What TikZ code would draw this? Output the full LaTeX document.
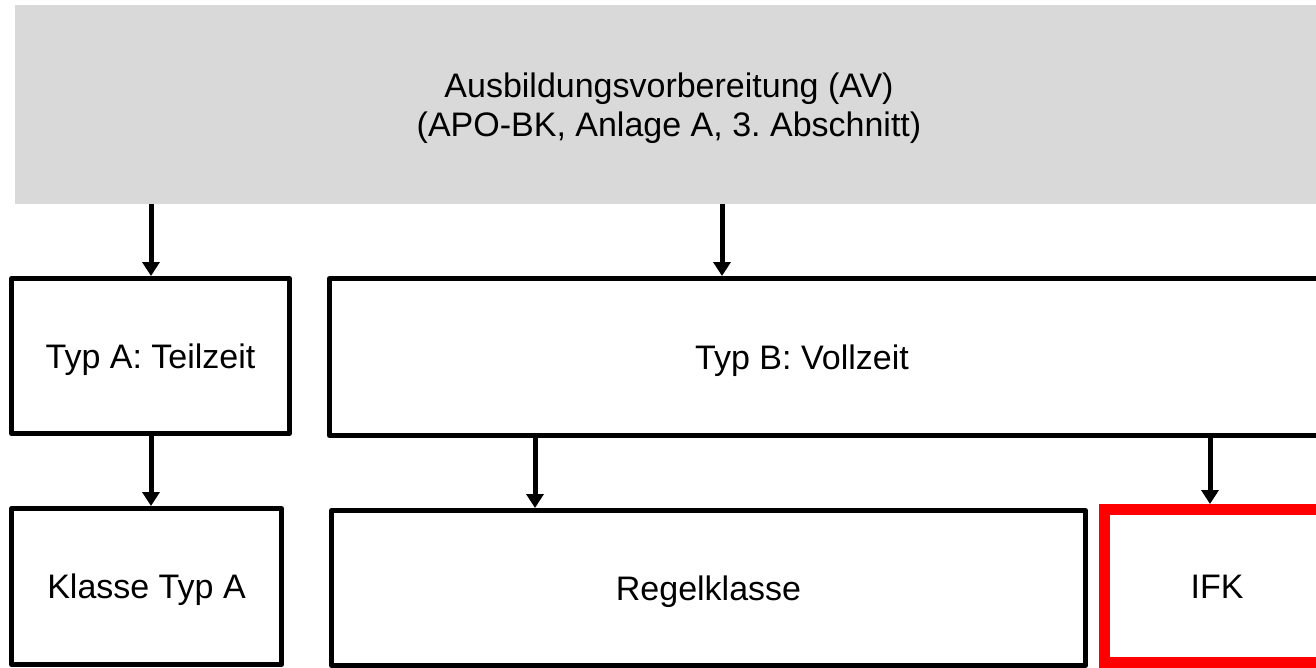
\documentclass[tikz,border=0pt]{standalone}
\usepackage{fontspec}
\setmainfont{Liberation Sans}
\usetikzlibrary{arrows.meta,calc}
\definecolor{graybox}{HTML}{D9D9D9}
\definecolor{ifkred}{HTML}{FF0000}
\frenchspacing
\begin{document}
\begin{tikzpicture}[x=1pt,y=-1pt,
  lbl/.style={font=\fontsize{34}{39}\selectfont, align=center, inner sep=0pt},
  one/.style={text height=24.3pt, text depth=0pt},
  box/.style={draw=black, line width=5pt, line join=round, fill=white, inner sep=0pt,
              font=\fontsize{34}{39}\selectfont, one},
  redbox/.style={draw=ifkred, line width=11pt, fill=white, inner sep=0pt,
              font=\fontsize{34}{39}\selectfont, one},
  arr/.style={line width=5pt, -{Triangle[width=17pt,length=14pt]}}]
\useasboundingbox (0,0) rectangle (1316,668);
\clip (0,0) rectangle (1316,668);
% top grey box
\node[fill=graybox, minimum width=1308pt, minimum height=199pt, inner sep=0pt,
      anchor=north west] (av) at (15,5) {};
\node[lbl] (avt) at (669,108) {Ausbildungsvorbereitung (AV)\\(APO-BK, Anlage A, 3. Abschnitt)};
% second row
\node[box, minimum width=278pt, minimum height=155pt] (ta) at (150.5,356) {Typ A: Teilzeit};
\node[box, minimum width=998pt, minimum height=157pt] (tb) at (828.5,357) {};
\node[lbl, one] (tbt) at (802,357) {Typ B: Vollzeit};
% third row
\node[box, minimum width=270pt, minimum height=156pt] (ka) at (146.5,586.5) {Klasse Typ A};
\node[box, minimum width=754pt, minimum height=155pt] (rk) at (708.5,588) {Regelklasse};
\node[redbox, minimum width=225pt, minimum height=153pt] (ifk) at (1217,586) {IFK};
% arrow columns
\coordinate (xa) at (151,0);
\coordinate (xb) at (722,0);
\coordinate (xr) at (535,0);
\coordinate (xi) at (1210,0);
\draw[arr] (av.south -| xa) -- (ta.north -| xa);
\draw[arr] (av.south -| xb) -- (tb.north -| xb);
\draw[arr] (ta.south -| xa) -- (ka.north -| xa);
\draw[arr] (tb.south -| xr) -- (rk.north -| xr);
\draw[arr] (tb.south -| xi) -- (ifk.north -| xi);
\end{tikzpicture}
\end{document}
